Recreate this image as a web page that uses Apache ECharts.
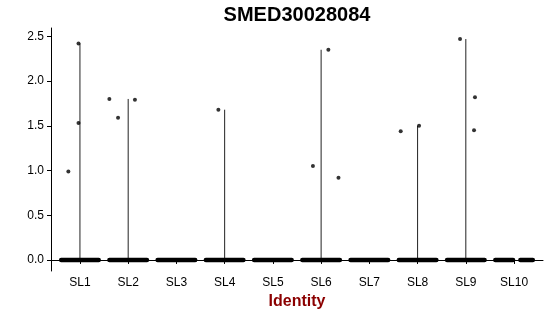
<!DOCTYPE html>
<html>
<head>
<meta charset="utf-8">
<script src="https://cdn.jsdelivr.net/npm/echarts@6/dist/echarts.min.js"></script>
<style>html,body{margin:0;padding:0;background:#fff}#c{width:550px;height:316px}</style>
</head>
<body>
<div id="c"></div>
<script>
const chartTitle = 'SMED30028084';
const xAxisTitle = 'Identity';
const categories = ['SL1','SL2','SL3','SL4','SL5','SL6','SL7','SL8','SL9','SL10'];
// non-zero expression values per identity and their horizontal jitter (category units)
const nonzeroValues = [[2.42,1.53,0.99],[1.80,1.59,1.79],[],[1.68],[],[2.35,1.05,0.92],[],[1.44,1.50],[2.47,1.82,1.45],[]];
const nonzeroJitter = [[-0.03,-0.03,-0.24],[-0.39,-0.21,0.14],[],[-0.13],[],[0.15,-0.17,0.36],[],[-0.35,0.03],[-0.12,0.19,0.17],[]];
// jitter extents of the dense cloud of zero-valued cells, per identity
const zeroSpans = [
  [[-0.39,0.39]],[[-0.39,0.39]],[[-0.39,0.39]],[[-0.39,0.39]],[[-0.39,0.39]],
  [[-0.39,0.39]],[[-0.39,0.39]],[[-0.39,0.39]],[[-0.39,0.39]],[[-0.39,-0.02],[0.13,0.39]]
];
const yTicks = [0,0.5,1,1.5,2,2.5];

const font = 'Liberation Sans, Arial, Helvetica, sans-serif';
const pointData = [];
const violinData = [];
const bandData = [];
categories.forEach((c, i) => {
  const vals = nonzeroValues[i];
  vals.forEach((v, j) => pointData.push([i + 1 + nonzeroJitter[i][j], v]));
  if (vals.length) violinData.push([i + 1, Math.max(...vals)]);
  zeroSpans[i].forEach(s => bandData.push([i + 1, s[0], s[1]]));
});
const allMax = Math.max(...nonzeroValues.flat());
const pad = allMax * 0.05;
const xTickVals = categories.map((c, i) => i + 1);

const chart = echarts.init(document.getElementById('c'), null, {renderer: 'canvas'});
chart.setOption({
  animation: false,
  backgroundColor: '#fff',
  title: {
    text: chartTitle, left: 297, top: 5, textAlign: 'center', padding: 0,
    textStyle: {fontFamily: font, fontSize: 20, fontWeight: 'bold', color: '#000'}
  },
  grid: {left: 51, right: 7, top: 28, bottom: 45, containLabel: false, outerBoundsMode: 'none'},
  xAxis: {
    type: 'value', min: 0.4, max: 10.6,
    splitLine: {show: false},
    axisLine: {show: true, lineStyle: {color: '#000', width: 1}},
    axisTick: {show: true, customValues: xTickVals, length: 4, lineStyle: {color: '#000'}},
    axisLabel: {
      customValues: xTickVals, margin: 6, color: '#000', fontFamily: font, fontSize: 12,
      formatter: v => categories[Math.round(v) - 1]
    },
    name: xAxisTitle, nameLocation: 'middle', nameGap: 20,
    nameTextStyle: {fontFamily: font, fontSize: 16, fontWeight: 'bold', color: '#8B0000'}
  },
  yAxis: {
    type: 'value', min: -pad, max: allMax + pad,
    splitLine: {show: false},
    axisLine: {show: true, lineStyle: {color: '#000', width: 1}},
    axisTick: {show: true, customValues: yTicks, length: 4, lineStyle: {color: '#000'}},
    axisLabel: {
      customValues: yTicks, margin: 7, color: '#000', fontFamily: font, fontSize: 12,
      formatter: v => v.toFixed(1)
    }
  },
  series: [
    {
      type: 'custom', data: violinData, silent: true,
      renderItem: (params, api) => {
        const a = api.coord([api.value(0), 0]);
        const b = api.coord([api.value(0), api.value(1)]);
        return {type: 'line', shape: {x1: a[0], y1: a[1], x2: b[0], y2: b[1]},
          style: {stroke: '#222', lineWidth: 1}};
      }
    },
    {
      type: 'custom', data: bandData, silent: true,
      renderItem: (params, api) => {
        const a = api.coord([api.value(0) + api.value(1), 0]);
        const b = api.coord([api.value(0) + api.value(2), 0]);
        return {type: 'line', shape: {x1: a[0], y1: a[1], x2: b[0], y2: b[1]},
          style: {stroke: '#000', lineWidth: 4.4, lineCap: 'round'}};
      }
    },
    {
      type: 'scatter', data: pointData, symbol: 'circle', symbolSize: 4,
      itemStyle: {color: '#000'}, silent: true
    }
  ]
});
</script>
</body>
</html>
